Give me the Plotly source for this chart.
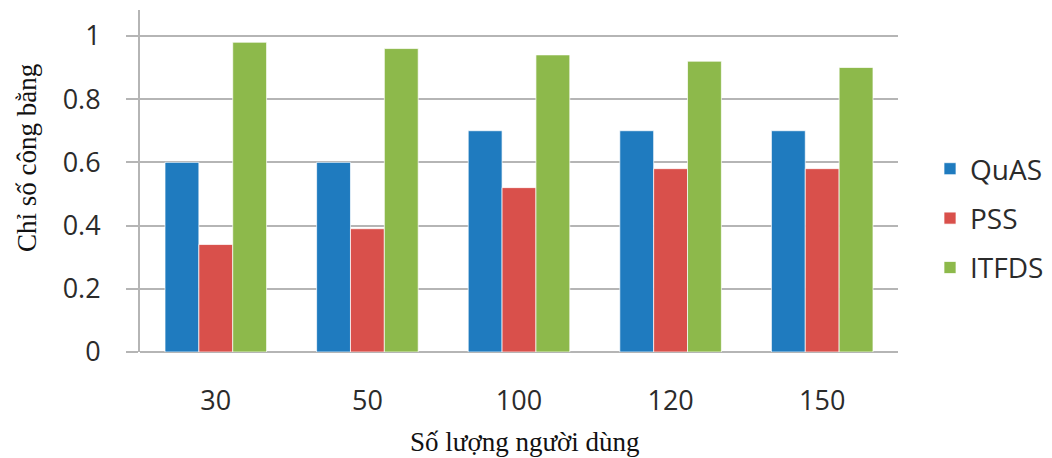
import plotly.graph_objects as go

# Number of users (categories) and fairness index per scheduler
users = ["30", "50", "100", "120", "150"]
quas = [0.60, 0.60, 0.70, 0.70, 0.70]
pss = [0.34, 0.39, 0.52, 0.58, 0.58]
itfds = [0.98, 0.96, 0.94, 0.92, 0.90]

series = [
    ("QuAS", quas, "#1F7BBF"),
    ("PSS", pss, "#D9504B"),
    ("ITFDS", itfds, "#8DB94B"),
]

W, H = 1052, 458
ML, MR, MT, MB = 140, 154, 10, 106
PW, PH = W - ML - MR, H - MT - MB

fig = go.Figure()
for name, vals, color in series:
    fig.add_trace(go.Bar(
        x=users, y=vals, name=name, legendgroup=name,
        marker=dict(color=color, line=dict(color="rgba(255,255,255,0.7)", width=1)),
    ))

grid = "#B5B5B5"
tick_font = dict(family="Open Sans", size=27, color="#2B2B2B")

fig.update_layout(
    width=W, height=H,
    margin=dict(l=ML, r=MR, t=MT, b=MB, pad=0, autoexpand=False),
    paper_bgcolor="white", plot_bgcolor="white",
    barmode="group", bargap=0.33, bargroupgap=0,
    showlegend=True,
    legend=dict(
        x=(930 - ML) / PW, y=1 - (144 - MT) / PH,
        xanchor="left", yanchor="top",
        font=dict(family="Open Sans", size=28, color="#2B2B2B"),
        tracegroupgap=10, bgcolor="rgba(0,0,0,0)",
    ),
    xaxis=dict(
        type="category", showgrid=False, showline=False, zeroline=False,
        ticks="", tickfont=tick_font, ticklabelstandoff=30,
    ),
    yaxis=dict(
        range=[0, 1.082], dtick=0.2, tick0=0,
        showgrid=True, gridcolor=grid, gridwidth=2,
        zeroline=True, zerolinecolor=grid, zerolinewidth=2,
        showline=True, linecolor=grid, linewidth=2,
        ticks="outside", ticklen=12, tickcolor=grid, tickwidth=2,
        tickfont=tick_font, ticklabelstandoff=20,
    ),
    annotations=[
        dict(text="Chỉ số công bằng", xref="paper", yref="paper",
             x=(27 - ML) / PW, y=1 - (158 - MT) / PH, textangle=-90,
             showarrow=False, xanchor="center", yanchor="middle",
             font=dict(family="Liberation Serif", size=27, color="#111111")),
        dict(text="Số lượng người dùng", xref="paper", yref="paper",
             x=(525 - ML) / PW, y=1 - (442 - MT) / PH,
             showarrow=False, xanchor="center", yanchor="middle",
             font=dict(family="Liberation Serif", size=27, color="#111111")),
    ],
)

fig.write_html("out.html")
